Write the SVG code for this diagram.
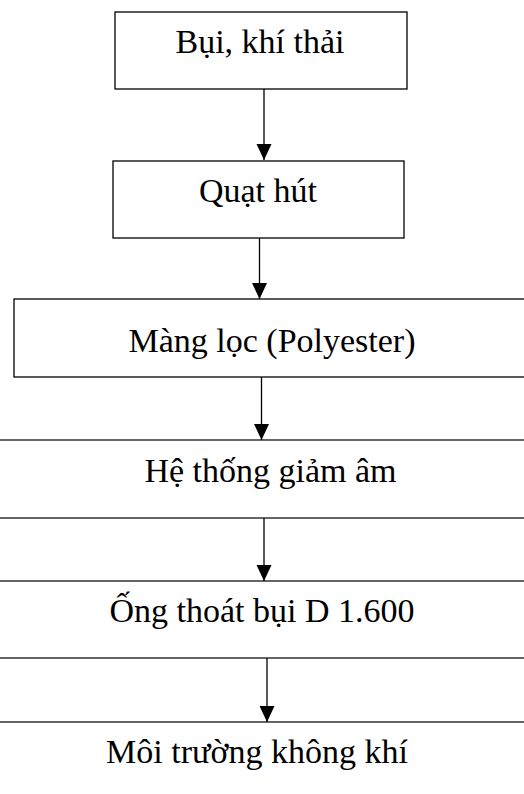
<svg xmlns="http://www.w3.org/2000/svg" width="524" height="794" viewBox="0 0 524 794">
<style>
.box{fill:#fff;stroke:#000;stroke-width:1.3}
.ln{stroke:#333;stroke-width:1.3;fill:none}
.t{font-family:"Liberation Serif","Times New Roman",serif;font-size:34px;fill:#000;text-anchor:middle}
.c{stroke:#000;stroke-width:1.3;fill:none}
</style>
<defs>
<marker id="ah" markerUnits="userSpaceOnUse" markerWidth="16" markerHeight="16" refX="16" refY="8" orient="auto">
<path d="M0,0.5 L16,8 L0,15.5 Z" fill="#000"/>
</marker>
</defs>
<rect width="524" height="794" fill="#fff"/>
<g id="n1"><rect class="box" x="115" y="12" width="292" height="77"/><text class="t" x="260" y="53">Bụi, khí thải</text></g>
<g id="n2"><rect class="box" x="113" y="161" width="291" height="77"/><text class="t" x="258" y="202">Quạt hút</text></g>
<g id="n3"><rect class="box" x="14" y="299" width="520" height="78"/><text class="t" x="272" y="352">Màng lọc (Polyester)</text></g>
<g id="n4"><line class="ln" x1="0" y1="440" x2="524" y2="440"/><line class="ln" x1="0" y1="518" x2="524" y2="518"/><text class="t" x="270.5" y="482">Hệ thống giảm âm</text></g>
<g id="n5"><line class="ln" x1="0" y1="581" x2="524" y2="581"/><line class="ln" x1="0" y1="658" x2="524" y2="658"/><text class="t" x="262" y="622">Ống thoát bụi D 1.600</text></g>
<g id="n6"><line class="ln" x1="0" y1="722" x2="524" y2="722"/><text class="t" x="257" y="763">Môi trường không khí</text></g>
<g id="connectors">
<line class="c" x1="264" y1="89" x2="264" y2="160" marker-end="url(#ah)"/>
<line class="c" x1="259.5" y1="238" x2="259.5" y2="299" marker-end="url(#ah)"/>
<line class="c" x1="261.5" y1="377" x2="261.5" y2="440" marker-end="url(#ah)"/>
<line class="c" x1="264" y1="518" x2="264" y2="581" marker-end="url(#ah)"/>
<line class="c" x1="267" y1="658" x2="267" y2="722" marker-end="url(#ah)"/>
</g>
</svg>
